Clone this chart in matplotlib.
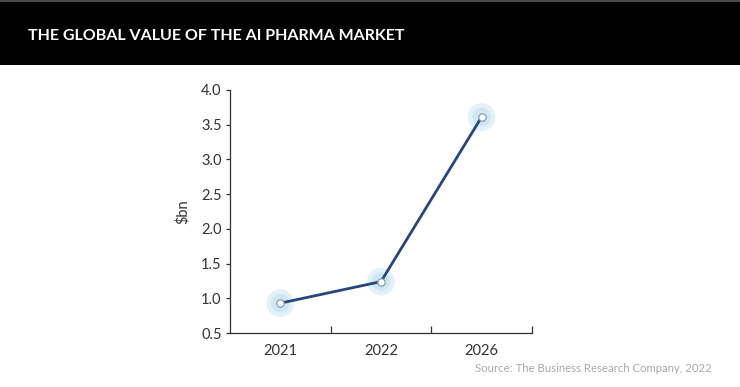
import matplotlib.pyplot as plt
from matplotlib.patches import Rectangle

years = ["2021", "2022", "2026"]
values = [0.93, 1.24, 3.61]
yticks = [0.5, 1.0, 1.5, 2.0, 2.5, 3.0, 3.5, 4.0]

title = "THE GLOBAL VALUE OF THE AI PHARMA MARKET"
source = "Source: The Business Research Company, 2022"

plt.rcParams['font.family'] = ['Lato', 'DejaVu Sans']

fig = plt.figure(figsize=(7.4, 3.87), dpi=100)
fig.patch.set_facecolor("white")

# header band
fig.patches.append(Rectangle((0, 0.832), 1, 0.168, transform=fig.transFigure,
                             facecolor="black", edgecolor="none", zorder=0))
fig.patches.append(Rectangle((0, 0.994), 1, 0.006, transform=fig.transFigure,
                             facecolor="#4a4a4a", edgecolor="none", zorder=1))
fig.text(0.038, 0.908, title, color="white", fontsize=11.5, fontweight="bold",
         va="center", ha="left")

ax = fig.add_axes([0.3108, 0.1395, 0.408, 0.628])
x = list(range(len(years)))

ax.plot(x, values, color="#27467c", lw=2.0, solid_capstyle="round", zorder=3)
# soft glow + ring markers
ax.scatter(x, values, s=400, color="#d8edf7", alpha=0.7, edgecolors="none", zorder=2)
ax.scatter(x, values, s=180, color="#bfe1f1", alpha=0.6, edgecolors="none", zorder=2)
ax.scatter(x, values, s=28, color="white", edgecolors="#8a9aa8", linewidths=0.9, zorder=4)

ax.set_xlim(-0.5, 2.5)
ax.set_ylim(0.5, 4.0)
ax.set_xticks(x)
ax.set_xticklabels(years)
ax.set_xticks([0.5, 1.5, 2.5], minor=True)
ax.set_yticks(yticks)
ax.set_yticklabels([f"{v:.1f}" for v in yticks])

for s in ["top", "right"]:
    ax.spines[s].set_visible(False)
for s in ["left", "bottom"]:
    ax.spines[s].set_color("#333333")
    ax.spines[s].set_linewidth(0.9)

ax.tick_params(axis="x", which="major", length=0, pad=8, labelsize=10.5, colors="#333333")
ax.tick_params(axis="x", which="minor", direction="in", length=5, width=0.9, color="#333333")
ax.tick_params(axis="y", direction="out", length=3, width=0.9, pad=3, labelsize=10.5, colors="#333333")

ax.set_ylabel("\\$bn", fontsize=10.5, color="#333333", labelpad=8)

fig.text(0.962, 0.047, source, color="#aaaaaa", fontsize=8.2, ha="right", va="center")

fig.savefig("out.png", dpi=100)
